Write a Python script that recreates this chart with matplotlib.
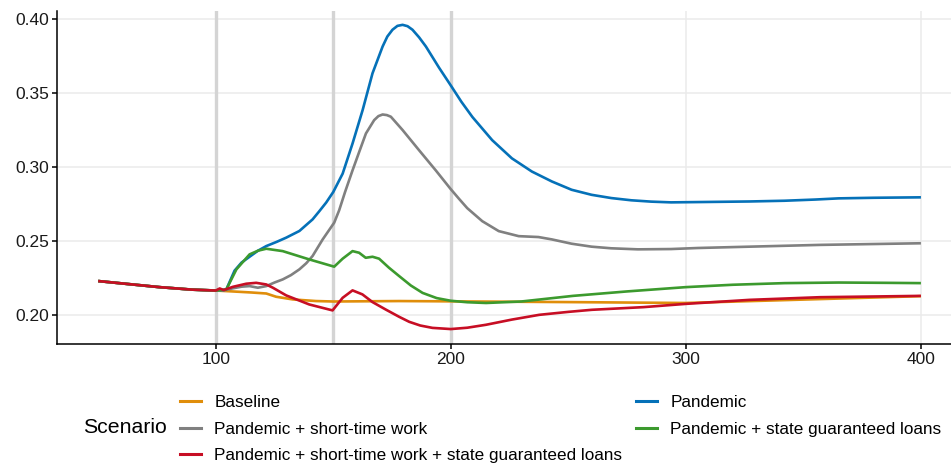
import numpy as np
import matplotlib
matplotlib.use("Agg")
import matplotlib.pyplot as plt
from matplotlib.lines import Line2D

plt.rcParams['font.family'] = ['Liberation Sans', 'DejaVu Sans']

# shared start (all scenarios identical before t = 100)
x_pre = [50, 62, 76, 90, 100]
y_pre = [0.2230, 0.2211, 0.2189, 0.2172, 0.2166]

# Baseline
x_base = [107, 115, 121.5, 125.7, 132.8, 142.7, 150, 178, 200, 250, 300, 350, 400]
y_base = [0.2160, 0.2153, 0.2146, 0.2124, 0.2106, 0.2095, 0.2092, 0.2095, 0.2093,
          0.2088, 0.2082, 0.2105, 0.2128]

# Pandemic
x_pan = [102, 104.5, 108, 111, 114.4, 118, 121.5, 126, 130, 135.6, 141.2, 144, 147,
         150, 154, 158.2, 162.5, 166.7, 171, 173, 175.2, 177.3, 179.5, 181.6, 183.7,
         186.5, 189.4, 195, 200, 204.5, 209.2, 217.6, 226, 234.5, 243, 251.4, 259.9,
         268.3, 276.8, 285.2, 293.7, 305, 327, 342, 355, 365, 380, 400]
y_pan = [0.2168, 0.2173, 0.2300, 0.2355, 0.2394, 0.2435, 0.2466, 0.2495, 0.2523,
         0.2568, 0.2646, 0.2700, 0.2760, 0.2831, 0.2955, 0.3158, 0.3384, 0.3632,
         0.3813, 0.3880, 0.3926, 0.3952, 0.3959, 0.3950, 0.3926, 0.3875, 0.3813,
         0.3670, 0.3550, 0.3440, 0.3337, 0.3181, 0.3058, 0.2969, 0.2902, 0.2846,
         0.2812, 0.2790, 0.2775, 0.2766, 0.2761, 0.2763, 0.2767, 0.2772, 0.2780,
         0.2788, 0.2792, 0.2795]

# Pandemic + short-time work
x_stw = [103, 107, 111, 114.4, 117.9, 121.5, 125, 128.5, 132, 135.6, 138.5, 141.2,
         145.5, 150.4, 152.5, 155, 158.2, 161, 163.9, 167.4, 169.2, 171, 172.8, 174.5,
         179.5, 186.5, 193.6, 200, 203.5, 207, 213.4, 220.4, 228.9, 237.3, 243, 251.4,
         259.9, 268.3, 279.6, 293.7, 305, 327, 357, 400]
y_stw = [0.2165, 0.2180, 0.2192, 0.2196, 0.2185, 0.2196, 0.2220, 0.2241, 0.2270,
         0.2309, 0.2350, 0.2399, 0.2511, 0.2624, 0.2707, 0.2830, 0.2977, 0.3100,
         0.3226, 0.3316, 0.3343, 0.3354, 0.3350, 0.3339, 0.3249, 0.3113, 0.2977,
         0.2850, 0.2785, 0.2722, 0.2634, 0.2567, 0.2533, 0.2527, 0.2511, 0.2482,
         0.2462, 0.2451, 0.2444, 0.2446, 0.2453, 0.2462, 0.2474, 0.2485]

# Pandemic + state guaranteed loans
x_sgl = [102, 104.5, 108.8, 114.4, 118, 121.5, 128.5, 139.8, 150.4, 154, 158.2, 161,
         163.8, 166.7, 169.5, 173.7, 178, 183, 188, 194, 200, 207, 215, 230, 252, 275,
         300, 320, 342, 365, 385, 400]
y_sgl = [0.2168, 0.2173, 0.2309, 0.2410, 0.2435, 0.2448, 0.2432, 0.2376, 0.2327,
         0.2381, 0.2432, 0.2421, 0.2387, 0.2394, 0.2381, 0.2320, 0.2264, 0.2200,
         0.2150, 0.2115, 0.2097, 0.2087, 0.2082, 0.2092, 0.2130, 0.2160, 0.2189,
         0.2205, 0.2216, 0.2220, 0.2218, 0.2216]

# Pandemic + short-time work + state guaranteed loans
x_both = [101.7, 103.4, 107.3, 113, 117.2, 121.5, 124.3, 130, 139.8, 149.7, 154,
          158.2, 162.4, 166.7, 172.3, 178, 182.3, 187, 192.2, 200, 207, 215, 226,
          237.6, 250, 260, 282, 300, 327, 357, 400]
y_both = [0.2180, 0.2169, 0.2191, 0.2212, 0.2218, 0.2207, 0.2185, 0.2133, 0.2072,
          0.2032, 0.2117, 0.2167, 0.2140, 0.2088, 0.2038, 0.1989, 0.1955, 0.1930,
          0.1914, 0.1906, 0.1915, 0.1935, 0.1970, 0.2002, 0.2022, 0.2036, 0.2054,
          0.2076, 0.2103, 0.2121, 0.2130]

labels = ['Baseline', 'Pandemic', 'Pandemic + short-time work',
          'Pandemic + state guaranteed loans',
          'Pandemic + short-time work + state guaranteed loans']
colors = ['#E08E0B', '#0571B8', '#808080', '#3C9A2E', '#C70E24']
series = [(x_base, y_base), (x_pan, y_pan), (x_stw, y_stw), (x_sgl, y_sgl), (x_both, y_both)]
event_x = [100, 150, 200]

fig = plt.figure(figsize=(9.51, 4.67), dpi=100)
ax = fig.add_axes([0.06, 0.263, 0.94, 0.713])

ax.set_xlim(32.5, 412.8)
ax.set_ylim(0.1804, 0.4051)
ax.set_xticks([100, 200, 300, 400])
ax.set_yticks([0.20, 0.25, 0.30, 0.35, 0.40])
ax.set_yticklabels(['0.20', '0.25', '0.30', '0.35', '0.40'])
ax.grid(True, color='#ebebeb', linewidth=1.1)
ax.set_axisbelow(True)

for v in event_x:
    ax.axvline(v, color='#d4d4d4', linewidth=2.4, zorder=1)

for (xs, ys), c in zip(series, colors):
    ax.plot(x_pre + list(xs), y_pre + list(ys), color=c, linewidth=1.9, zorder=3,
            solid_capstyle='butt', solid_joinstyle='round')

for s in ['top', 'right']:
    ax.spines[s].set_visible(False)
for s in ['left', 'bottom']:
    ax.spines[s].set_linewidth(1.1)
ax.tick_params(axis='both', length=3.5, width=1.1, labelsize=12.5, color='black',
               labelcolor='#1a1a1a', pad=2)

# legend: matplotlib fills columns first, so reorder to match the 2-column layout
order = [0, 2, 4, 1, 3]
handles = [Line2D([], [], color=colors[i], linewidth=2.2) for i in order]
fig.legend(handles, [labels[i] for i in order], ncol=2, frameon=False,
           loc='upper left', bbox_to_anchor=(0.1806, 0.173), borderpad=0,
           fontsize=12.3, handlelength=1.2, handletextpad=0.8,
           columnspacing=0.8, labelspacing=0.69)
fig.text(0.087, 0.085, 'Scenario', fontsize=15.3, va='center', ha='left')

fig.savefig('out.png', dpi=100)
